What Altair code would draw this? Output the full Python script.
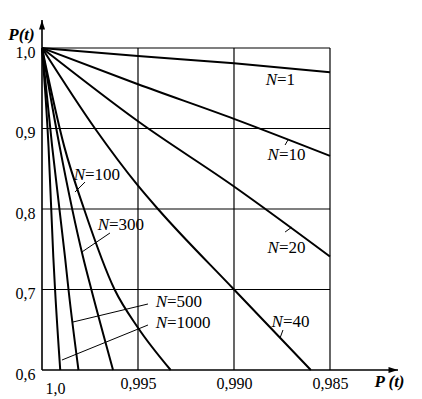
import altair as alt
import pandas as pd

# ---- data: element reliability p (x) vs system reliability P (y)
curve_names = ["N=1", "N=10", "N=20", "N=40", "N=100", "N=300", "N=500", "N=1000"]

p_N1 = [1.0, 0.995, 0.990, 0.985]
P_N1 = [1.0, 0.990, 0.981, 0.970]

p_N10 = [1.0, 0.995, 0.990, 0.985]
P_N10 = [1.0, 0.955, 0.912, 0.866]

p_N20 = [1.0, 0.995, 0.990, 0.985]
P_N20 = [1.0, 0.909, 0.828, 0.741]

p_N40 = [1.0, 0.99724, 0.995, 0.99396, 0.990, 0.9860]
P_N40 = [1.0, 0.900, 0.829, 0.800, 0.700, 0.600]

p_N100 = [1.0, 0.99884, 0.99781, 0.99622, 0.9950, 0.9933]
P_N100 = [1.0, 0.8775, 0.800, 0.700, 0.6525, 0.600]

p_N300 = [1.0, 0.99908, 0.99786, 0.99743, 0.9963]
P_N300 = [1.0, 0.8775, 0.740, 0.700, 0.600]

p_N500 = [1.0, 0.99947, 0.9988, 0.99862, 0.9981]
P_N500 = [1.0, 0.8775, 0.740, 0.700, 0.600]

p_N1000 = [1.0, 0.99966, 0.99941, 0.99932, 0.99905]
P_N1000 = [1.0, 0.8775, 0.740, 0.700, 0.600]

curve_p = [p_N1, p_N10, p_N20, p_N40, p_N100, p_N300, p_N500, p_N1000]
curve_P = [P_N1, P_N10, P_N20, P_N40, P_N100, P_N300, P_N500, P_N1000]

# curve label anchor points (p, P) and leader lines
label_p = [0.98776, 0.98766, 0.98766, 0.98745, 0.99776, 0.99651, 0.99349, 0.99349]
label_P = [0.9602, 0.8671, 0.7516, 0.6596, 0.8422, 0.7801, 0.6845, 0.6584]
label_num = ["=1", "=10", "=20", "=40", "=100", "=300", "=500", "=1000"]

leader_p1 = [0.98734, 0.98734, 0.98745, 0.99776, 0.99646, 0.99448, 0.99448]
leader_P1 = [0.8795, 0.7714, 0.6497, 0.8335, 0.7702, 0.6820, 0.6559]
leader_p2 = [0.98719, 0.98698, 0.98760, 0.99828, 0.99792, 0.99839, 0.99896]
leader_P2 = [0.8857, 0.7776, 0.6398, 0.8211, 0.7466, 0.6596, 0.6124]

x_ticks = [1.0, 0.995, 0.990, 0.985]
y_ticks = [0.6, 0.7, 0.8, 0.9, 1.0]
x_grid = [0.995, 0.990, 0.985]
y_grid = [0.7, 0.8, 0.9, 1.0]

X_MIN = 0.981458
Y_MAX = 1.0348

rows = []
for name, ps, Ps in zip(curve_names, curve_p, curve_P):
    for i, (a, b) in enumerate(zip(ps, Ps)):
        rows.append({"N": name, "i": i, "p": a, "P": b})
curves = pd.DataFrame(rows)

labels = pd.DataFrame({"p": label_p, "P": label_P, "num": label_num, "n": ["N"] * len(label_p)})
leaders = pd.DataFrame({"p": leader_p1, "P": leader_P1, "p2": leader_p2, "P2": leader_P2})
vgrid = pd.DataFrame({"p": x_grid, "P": [0.6] * 3, "P2": [1.0] * 3})
hgrid = pd.DataFrame({"P": y_grid, "p": [1.0] * 4, "p2": [0.985] * 4})
xaxis = pd.DataFrame({"P": [0.6], "p": [1.0], "p2": [X_MIN]})
yaxis = pd.DataFrame({"p": [1.0], "P": [0.6], "P2": [Y_MAX]})
arrow_up = pd.DataFrame({"p": [1.0], "P": [Y_MAX]})
arrow_right = pd.DataFrame({"p": [X_MIN], "P": [0.6]})

FONT = "Liberation Serif"
xs = alt.Scale(domain=[X_MIN, 1.0], reverse=True, nice=False, zero=False)
ys = alt.Scale(domain=[0.6, Y_MAX], nice=False, zero=False)

x_axis = alt.Axis(
    values=x_ticks,
    labelExpr="datum.value == 1 ? '1,0' : replace(format(datum.value, '.3f'), '.', ',')",
    domain=False, ticks=False, grid=False,
    labelFont=FONT, labelFontSize=16, labelColor="black",
    labelPadding={"condition": {"test": "datum.value == 1", "value": 10}, "value": 5},
    labelOffset={"condition": {"test": "datum.value == 1", "value": 13}, "value": 0},
    labelFlush=False, labelBound=False, labelOverlap=False,
    title="P (t)", titleFont=FONT, titleFontSize=17, titleFontStyle="italic",
    titleFontWeight="bold", titleColor="black", titleX=347, titleY=11,
    titleAlign="center", titleBaseline="middle",
)
y_axis = alt.Axis(
    values=y_ticks,
    labelExpr="replace(format(datum.value, '.1f'), '.', ',')",
    domain=False, ticks=False, grid=False,
    labelFont=FONT, labelFontSize=16, labelColor="black",
    labelPadding=7, labelOffset=4, labelFlush=False, labelBound=False, labelOverlap=False,
    title="P(t)", titleFont=FONT, titleFontSize=17, titleFontStyle="italic",
    titleFontWeight="bold", titleColor="black", titleAngle=0, titleX=-21, titleY=14,
    titleAlign="center", titleBaseline="middle",
)


def X(field="p"):
    return alt.X(f"{field}:Q", scale=xs, axis=x_axis)


def Y(field="P"):
    return alt.Y(f"{field}:Q", scale=ys, axis=y_axis)


lines = alt.Chart(curves).mark_line(color="black", strokeWidth=2, interpolate="monotone").encode(
    x=X(), y=Y(), detail="N:N", order="i:Q",
)

vg = alt.Chart(vgrid).mark_rule(color="black", strokeWidth=1.2).encode(x=X(), y=Y(), y2="P2:Q")
hg = alt.Chart(hgrid).mark_rule(color="black", strokeWidth=1.2).encode(y=Y(), x=X(), x2="p2:Q")
xa = alt.Chart(xaxis).mark_rule(color="black", strokeWidth=1.6).encode(y=Y(), x=X(), x2="p2:Q")
ya = alt.Chart(yaxis).mark_rule(color="black", strokeWidth=1.6).encode(x=X(), y=Y(), y2="P2:Q")
au = alt.Chart(arrow_up).mark_point(
    shape="M0,0L-0.35,1.1L0.35,1.1Z", filled=True, color="black", opacity=1, size=300
).encode(x=X(), y=Y())
ar = alt.Chart(arrow_right).mark_point(
    shape="M0,0L-1.1,-0.35L-1.1,0.35Z", filled=True, color="black", opacity=1, size=300
).encode(x=X(), y=Y())

lead = alt.Chart(leaders).mark_rule(color="black", strokeWidth=1).encode(
    x=X(), y=Y(), x2="p2:Q", y2="P2:Q",
)
lab_n = alt.Chart(labels).mark_text(
    font=FONT, fontSize=17, fontStyle="italic", align="right", baseline="middle", color="black"
).encode(x=X(), y=Y(), text="n:N")
lab_v = alt.Chart(labels).mark_text(
    font=FONT, fontSize=17, align="left", baseline="middle", color="black"
).encode(x=X(), y=Y(), text="num:N")

chart = alt.layer(lines, vg, hg, xa, ya, au, ar, lead, lab_n, lab_v).properties(
    width=356, height=350,
    autosize=alt.AutoSizeParams(type="none"),
    padding={"left": 34, "top": 12, "right": 16, "bottom": 28},
    background="white",
).configure_view(stroke=None)

chart.save("out.html", embed_options={"renderer": "svg", "actions": False})
